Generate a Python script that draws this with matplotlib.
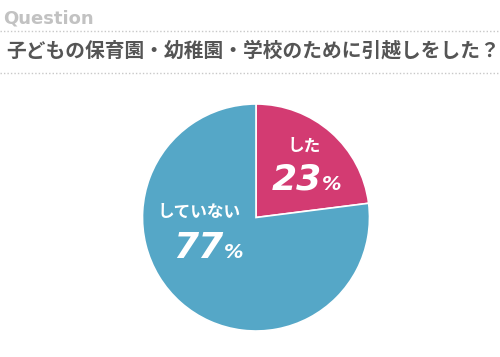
import matplotlib
matplotlib.use("Agg")
import matplotlib.pyplot as plt
from matplotlib.lines import Line2D

plt.rcParams['font.family'] = ['Noto Sans CJK JP', 'DejaVu Sans']

title = "子どもの保育園・幼稚園・学校のために引越しをした？"
labels = ["した", "していない"]
values = [23, 77]
colors = ["#D33B72", "#55A7C7"]

W, H = 500, 357
fig = plt.figure(figsize=(W / 100, H / 100), dpi=100)
fig.patch.set_facecolor("white")

def fx(x):
    return x / W

def fy(y):
    return 1 - y / H

fig.text(fx(3), fy(19), "Question", fontsize=13, fontweight="bold",
         color="#C2C2C2", ha="left", va="center", family="DejaVu Sans Condensed")
fig.text(fx(253), fy(51), title, fontsize=14.2, fontweight="bold",
         color="#555555", ha="center", va="center")
for yy in (31, 73):
    fig.add_artist(Line2D([0, 1], [fy(yy), fy(yy)], transform=fig.transFigure,
                          color="#C8C8C8", lw=1, linestyle=(0, (1, 1.5))))

cx, cy, r = 256, 217.5, 113.5
ax = fig.add_axes([fx(cx - r), fy(cy + r), 2 * r / W, 2 * r / H])
wedges, _ = ax.pie(values, colors=colors, startangle=90, counterclock=False,
                   radius=1, wedgeprops=dict(edgecolor="white", linewidth=1.2))
ax.set_xlim(-1, 1)
ax.set_ylim(-1, 1)
ax.set_axis_off()

def px2ax(x, y):
    return ((x - cx) / r, (cy - y) / r)

num_kw = dict(fontsize=26, fontweight="bold", style="italic", color="white",
              va="center", family="DejaVu Sans")
pct_kw = dict(fontsize=14, fontweight="bold", style="italic", color="white",
              va="center", ha="left", family="DejaVu Sans")

x, y = px2ax(304, 146)
ax.text(x, y, labels[0], fontsize=12, fontweight="bold", color="white",
        ha="center", va="center")
x, y = px2ax(322, 180)
ax.text(x, y, str(values[0]), ha="right", **num_kw)
x, y = px2ax(322, 184)
ax.text(x, y, "%", **pct_kw)

x, y = px2ax(199, 212)
ax.text(x, y, labels[1], fontsize=12, fontweight="bold", color="white",
        ha="center", va="center")
x, y = px2ax(223, 248)
ax.text(x, y, str(values[1]), ha="right", **num_kw)
x, y = px2ax(224, 252)
ax.text(x, y, "%", **pct_kw)

fig.savefig("out.png", dpi=100, facecolor="white")
